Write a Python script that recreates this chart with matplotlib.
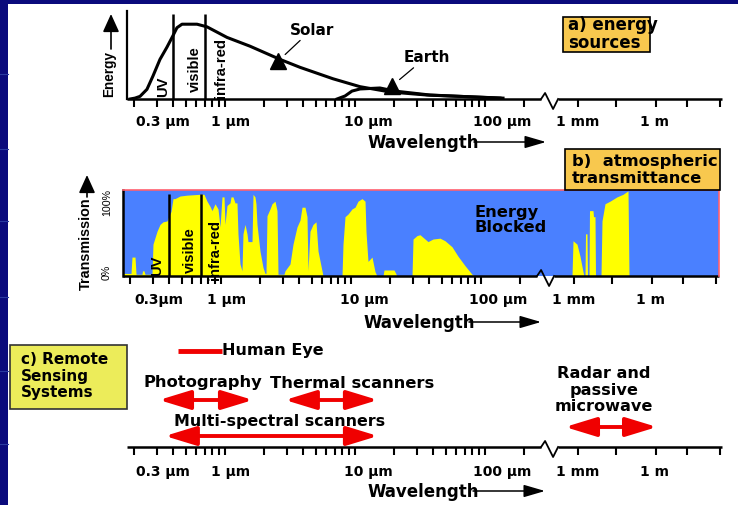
import numpy as np
import matplotlib
matplotlib.use("Agg")
import matplotlib.pyplot as plt
from matplotlib.patches import Rectangle, FancyArrowPatch
from matplotlib import font_manager

# ---------------- data (wavelengths in micrometres) ----------------
# a) energy sources: relative spectral energy (0-100)
solar_wl = [0.186, 0.203, 0.222, 0.251, 0.279, 0.316, 0.358, 0.398, 0.427, 0.467,
            0.609, 0.727, 1.036, 1.557, 2.65, 3.775, 6.77, 10.93, 18.6, 35.8, 137.6]
solar_energy = [0, 1, 3, 11, 26, 45, 59, 72, 81, 85,
                85, 82, 70, 60, 45, 36, 23, 14, 8, 4.5, 1]
earth_wl = [7.27, 8.38, 9.48, 10.93, 15.56, 20.3, 37.8, 130.4]
earth_energy = [0, 3.4, 9, 11.4, 12.5, 9, 4.5, 1]
marker_names = ["Solar", "Earth"]
marker_wl = [2.56, 19.3]
marker_energy = [43, 15]

# b) atmospheric transmittance (%)
trans_wl = [0.176, 0.1926, 0.2031, 0.2067, 0.2181, 0.2220, 0.2467, 0.2489, 0.2556, 0.2602,
            0.2945, 0.2998, 0.3219, 0.3395, 0.3580, 0.3843, 0.3981, 0.4125, 0.4274, 0.4428,
            0.4838, 0.5475, 0.6895, 0.7400, 0.7803, 0.8232, 0.8526, 0.8993, 0.9482, 0.9824,
            1.018, 1.055, 1.073, 1.112, 1.173, 1.194, 1.237, 1.281, 1.327, 1.351,
            1.400, 1.450, 1.476, 1.530, 1.585, 1.613, 1.732, 1.763, 1.826, 1.858,
            1.892, 1.995, 2.104, 2.180, 2.219, 2.259, 2.382, 2.468, 2.603, 2.697,
            2.745, 3.052, 3.106, 3.395, 3.580, 3.842, 4.053, 4.200, 4.429, 4.587,
            4.669, 4.837, 5.102, 5.381, 5.576, 5.984, 6.091, 8.527, 8.679, 8.994,
            9.483, 10.18, 10.74, 11.32, 12.15, 12.82, 13.04, 13.51, 14.51, 15.30,
            15.85, 17.63, 17.94, 21.42, 22.59, 29.46, 30.00, 32.19, 33.95, 37.09,
            39.11, 42.74, 48.38, 52.86, 59.84, 66.55, 75.34, 85.27, 89.92, 925,
            962, 1304, 1701, 2220, 2425, 2650, 2770, 3162, 3305, 3776,
            3946, 5380, 5623, 6425, 6716, 10920, 11940, 15570, 24250, 45080,
            76700, 119400, 130400, 3.5e8]
trans_pct = [3, 3, 3, 22, 22, 2, 2, 6, 6, 2,
             2, 37, 52, 60, 63, 64, 70, 75, 90, 90,
             93, 94, 95, 95, 87, 81, 76, 84, 78, 57,
             92, 92, 60, 82, 85, 92, 92, 85, 85, 49,
             14, 6, 49, 60, 49, 40, 40, 95, 92, 84,
             60, 29, 10, 3, 3, 70, 78, 84, 87, 76,
             2, 2, 6, 14, 37, 57, 65, 80, 80, 69,
             6, 52, 60, 63, 29, 6, 0, 0, 37, 69,
             72, 78, 80, 87, 90, 87, 52, 17, 22, 5,
             0, 0, 7, 7, 0, 0, 43, 47, 48, 43,
             40, 43, 44, 41, 34, 23, 12, 2, 0, 0,
             41, 37, 23, 5, 0, 0, 49, 49, 0, 0,
             76, 76, 69, 69, 0, 0, 64, 84, 87, 92,
             95, 99, 0, 0]

region_bounds_wl = [0.4, 0.7]
region_names = ["UV", "visible", "infra-red"]

# axis ticks and labels
tick_wl = [0.2, 0.3, 0.4, 0.5, 0.6, 0.7, 0.8, 0.9, 1, 2, 3, 4, 5, 6, 7, 8, 9,
           10, 20, 30, 40, 50, 60, 70, 80, 90, 100, 200, 1e3, 3e4, 1e6, 1.5e7, 3e8]
label_wl = [0.3, 1, 10, 100, 1e3, 1e6]
labels_ac = ["0.3 µm", "1 µm", "10 µm", "100 µm", "1 mm", "1 m"]
labels_b = ["0.3µm", "1 µm", "10 µm", "100 µm", "1 mm", "1 m"]
BREAK_WL = 270.0

# c) remote sensing systems (wavelength ranges)
sensing_names = ["Human Eye", "Photography", "Thermal scanners",
                 "Multi-spectral scanners", "Radar and passive microwave"]
sensing_lo = [0.435, 0.311, 2.89, 0.345, 604]
sensing_hi = [0.948, 1.64, 15.0, 15.0, 1.09e6]

# ---------------- style ----------------
W, H = 738, 506
NAVY = "#0a0a7c"
BLUE = "#4a80ff"
YELLOW = "#ffff00"
RED = "#f00000"
ORANGE = "#f8c84e"
LIME = "#ecec5a"
PINK = "#ff6070"
SENSING_LEVEL = [96, 47, 47, 11, 20]

plt.rcParams["font.family"] = ["DejaVu Sans"]
plt.rcParams["font.weight"] = "bold"
_names = {f.name for f in font_manager.fontManager.ttflist}
if "Liberation Sans Narrow" in _names:
    NARROW, NS = "Liberation Sans Narrow", 1.0
else:
    NARROW, NS = "Liberation Sans", 0.82

# piecewise log scale with a break between ~300 um and 1 mm
L1 = np.log10(300.0)
U1 = 225 + 130 * L1


def fwd(w):
    lw = np.log10(np.clip(np.asarray(w, dtype=float), 1e-12, None))
    return np.where(lw <= L1, 225 + 130 * lw,
                    np.where(lw <= 3, U1 + (lw - L1) * (578 - U1) / (3 - L1),
                             578 + 26 * (lw - 3)))


def inv(u):
    u = np.asarray(u, dtype=float)
    lw = np.where(u <= U1, (u - 225) / 130,
                  np.where(u <= 578, L1 + (u - U1) * (3 - L1) / (578 - U1),
                           3 + (u - 578) / 26))
    return 10 ** lw


fig = plt.figure(figsize=(W / 100, H / 100), dpi=100, facecolor=NAVY)


def px_axes(x0, x1, ytop, ybot, **kw):
    return fig.add_axes([x0 / W, 1 - ybot / H, (x1 - x0) / W, (ybot - ytop) / H], **kw)


bg = px_axes(0, W, 0, H, zorder=0)
bg.set_xlim(0, W)
bg.set_ylim(H, 0)
bg.axis("off")
bg.add_patch(Rectangle((8, 5), W - 8, H - 5, fc="white", ec="none"))
for yy in [75, 150, 222, 298, 372, 445]:
    bg.plot([0, 8], [yy, yy], color="#2a3aa0", lw=0.8)

over = px_axes(0, W, 0, H, zorder=10)
over.set_xlim(0, W)
over.set_ylim(H, 0)
over.axis("off")


def panel(x0, x1, ytop, ybot, shift, ylim):
    ax = px_axes(x0, x1, ytop, ybot, zorder=5)
    ax.set_xscale("function", functions=(fwd, inv))
    ax.set_xlim(float(inv(x0 + shift)), float(inv(x1 + shift)))
    ax.set_ylim(*ylim)
    ax.patch.set_alpha(0)
    for s in ax.spines.values():
        s.set_visible(False)
    ax.set_yticks([])
    ax.set_xticks(tick_wl)
    ax.tick_params(axis="x", which="major", direction="out", length=5.8,
                   width=1.5, color="black", labelbottom=False)
    ax.tick_params(axis="x", which="minor", length=0)
    # baseline with break
    hpx = ybot - ytop
    yr = ylim[1] - ylim[0]
    us = float(fwd(BREAK_WL))
    us_pts = [x0 + shift, us, us + 4, us + 12, us + 17, x1 + shift]
    dy = [0, 0, 6, -10, 0, 0]
    xs = inv(np.array(us_pts))
    ys = [ylim[0] + d * yr / hpx for d in dy]
    ax.plot(xs[:2], ys[:2], color="black", lw=1.8, clip_on=False, solid_capstyle="butt")
    ax.plot(xs[1:5], ys[1:5], color="black", lw=1.3, clip_on=False)
    ax.plot(xs[4:], ys[4:], color="black", lw=1.8, clip_on=False, solid_capstyle="butt")
    return ax


def tick_labels(ax, labels, dy_pt):
    dxs = [6, 6, 13, 17, 0, -1]
    for wl, lab, dx in zip(label_wl, labels, dxs):
        ax.annotate(lab, xy=(wl, 0), xycoords=("data", "axes fraction"),
                    xytext=(dx * 0.72, -dy_pt), textcoords="offset points",
                    ha="center", va="center", size=10, weight="bold")


def wave_label(x, y):
    over.text(x, y, "Wavelength", ha="left", va="center", size=12, weight="bold")
    over.annotate("", xy=(x + 178, y), xytext=(x + 106, y),
                  arrowprops=dict(arrowstyle="-|>,head_length=1.3,head_width=0.38",
                                  lw=1.1, color="black", shrinkA=0, shrinkB=0))


# ---------------- panel a ----------------
ax_a = panel(127, 722, 12, 100, 0, (0, 100))
ax_a.spines["left"].set_visible(True)
ax_a.spines["left"].set_linewidth(1.6)
ax_a.plot(solar_wl, solar_energy, color="black", lw=2.2, solid_joinstyle="round")
ax_a.plot(earth_wl, earth_energy, color="black", lw=2.2, solid_joinstyle="round")
ax_a.vlines(region_bounds_wl, 0, 96.5, color="black", lw=1.8)
ax_a.plot(marker_wl, marker_energy, ls="none", marker="^", ms=12, color="black")
for name, wl, en, off in zip(marker_names, marker_wl, marker_energy,
                             [(24.5, 23), (25, 21)]):
    ax_a.annotate(name, xy=(wl, en), xytext=off, textcoords="offset points",
                  ha="center", va="center", size=11, weight="bold",
                  arrowprops=dict(arrowstyle="-", lw=0.9, color="black",
                                  shrinkA=1, shrinkB=7))
tick_labels(ax_a, labels_ac, 15.8)
wave_label(368, 143)
for name, (x, y) in zip(region_names, [(163, 87), (195, 69), (221, 68)]):
    over.text(x, y, name, rotation=90, ha="center", va="center",
              family=NARROW, size=13 * NS, weight="bold")
over.text(109, 74, "Energy", rotation=90, ha="center", va="center",
          family=NARROW, size=12 * NS, weight="bold")
over.annotate("", xy=(111, 15), xytext=(111, 50),
              arrowprops=dict(arrowstyle="-|>,head_length=1.1,head_width=0.5",
                              lw=1.2, color="black", shrinkA=0, shrinkB=0))
over.add_patch(Rectangle((563, 18), 87, 35, fc=ORANGE, ec="black", lw=1.2))
over.text(568, 25, "a) energy", ha="left", va="center", size=12, weight="bold")
over.text(568, 43, "sources", ha="left", va="center", size=12, weight="bold")

# ---------------- panel b ----------------
ax_b = panel(123, 719, 191, 277, 4, (0, 100))
ax_b.patch.set_alpha(1)
ax_b.set_facecolor(BLUE)
ax_b.spines["left"].set_visible(True)
ax_b.spines["left"].set_linewidth(1.8)
for side in ["top", "right"]:
    ax_b.spines[side].set_visible(True)
    ax_b.spines[side].set_color(PINK)
    ax_b.spines[side].set_linewidth(1.2)
ax_b.fill_between(trans_wl, 0, trans_pct, color=YELLOW, lw=0)
ax_b.vlines(region_bounds_wl, 0, 95, color="black", lw=1.8)
tick_labels(ax_b, labels_b, 16.6)
wave_label(363, 323)
for name, (x, y) in zip(region_names, [(157, 266), (190, 250), (215, 250)]):
    over.text(x, y, name, rotation=90, ha="center", va="center",
              family=NARROW, size=13 * NS, weight="bold")
over.text(86, 244, "Transmission", rotation=90, ha="center", va="center",
          family=NARROW, size=12.6 * NS, weight="bold")
over.annotate("", xy=(87, 176), xytext=(87, 198),
              arrowprops=dict(arrowstyle="-|>,head_length=1.1,head_width=0.5",
                              lw=1.2, color="black", shrinkA=0, shrinkB=0))
over.text(107, 203, "100%", rotation=90, ha="center", va="center",
          family=NARROW, size=9.3 * NS, weight="normal")
over.text(107, 272, "0%", rotation=90, ha="center", va="center",
          family=NARROW, size=9.3 * NS, weight="normal")
over.text(475, 212, "Energy", ha="left", va="center", size=11.7, weight="bold")
over.text(475, 228, "Blocked", ha="left", va="center", size=11.7, weight="bold")
box_b = Rectangle((565, 150), 155, 41, fc=ORANGE, ec="black", lw=1.2)
over.add_patch(box_b)
t1 = over.text(572, 161, "b)  atmospheric", ha="left", va="center", size=11.8, weight="bold")
t2 = over.text(572, 178, "transmittance", ha="left", va="center", size=11.8, weight="bold")
t1.set_clip_path(box_b)

# ---------------- panel c ----------------
ax_c = panel(127, 722, 340, 448, 0, (0, 108))
for i, (lo, hi, lvl) in enumerate(zip(sensing_lo, sensing_hi, SENSING_LEVEL)):
    if i == 0:
        ax_c.plot([lo, hi], [lvl, lvl], color=RED, lw=3.5, solid_capstyle="butt")
    else:
        ax_c.add_patch(FancyArrowPatch((lo, lvl), (hi, lvl),
                                       arrowstyle="<|-|>,head_length=19,head_width=5.8",
                                       mutation_scale=1, lw=2.8, color=RED,
                                       shrinkA=0, shrinkB=0))
tick_labels(ax_c, labels_ac, 17.3)
wave_label(367, 492)
over.text(222, 350, sensing_names[0], ha="left", va="center", size=11.5, weight="bold")
over.text(203, 383, sensing_names[1], ha="center", va="center", size=11.8, weight="bold")
over.text(352, 383, sensing_names[2], ha="center", va="center", size=11.8, weight="bold")
over.text(280, 422, sensing_names[3], ha="center", va="center", size=11.4, weight="bold")
for line, yy in zip(["Radar and", "passive", "microwave"], [373, 391, 407]):
    over.text(604, yy, line, ha="center", va="center", size=11.6, weight="bold")
over.add_patch(Rectangle((10, 346), 117, 64, fc=LIME, ec="#333333", lw=1.2))
for line, yy in zip(["c) Remote", "Sensing", "Systems"], [360, 377, 393]):
    over.text(21, yy, line, ha="left", va="center", size=11, weight="bold")

fig.savefig("out.png", dpi=100, facecolor=fig.get_facecolor())
